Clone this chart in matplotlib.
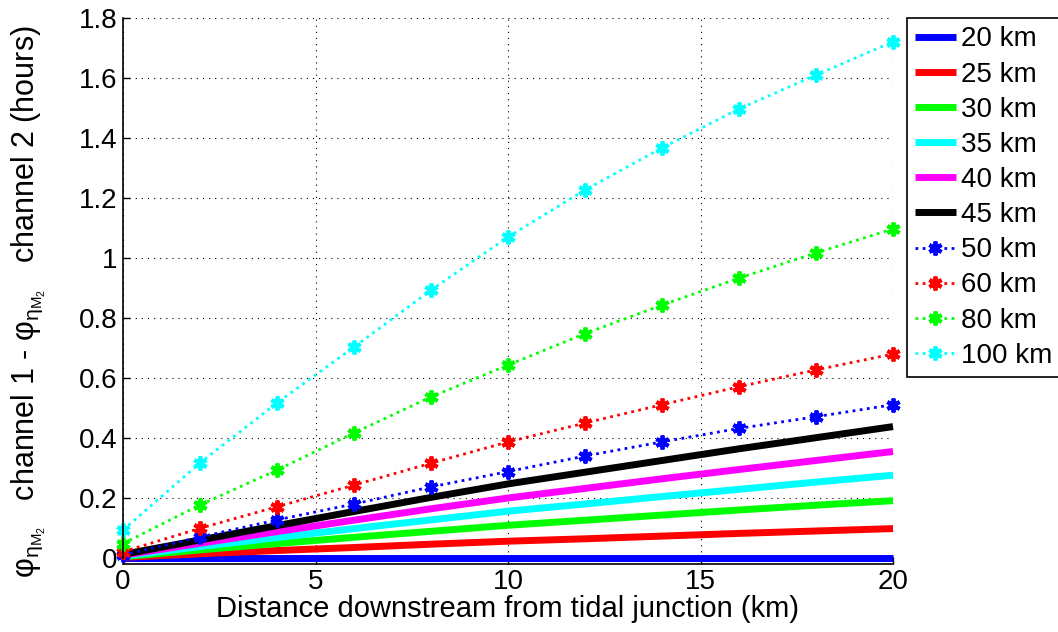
import matplotlib.pyplot as plt
from matplotlib.ticker import MultipleLocator, FormatStrFormatter

plt.rcParams['font.family'] = ['Liberation Sans', 'DejaVu Sans']
plt.rcParams['mathtext.default'] = 'regular'
FONT_SIZE = 20

# distance downstream from the junction (km)
dist = [0, 2, 4, 6, 8, 10, 12, 14, 16, 18, 20]

# phase difference (hours) for each channel length
phase_20 = [0.0, 0.0, 0.0, 0.0, 0.0, 0.0, 0.0, 0.0, 0.0, 0.0, 0.0]
phase_25 = [0.002, 0.014, 0.025, 0.035, 0.046, 0.056, 0.064, 0.073, 0.082, 0.090, 0.098]
phase_30 = [0.004, 0.027, 0.048, 0.069, 0.089, 0.109, 0.126, 0.143, 0.160, 0.176, 0.191]
phase_35 = [0.006, 0.038, 0.068, 0.098, 0.127, 0.156, 0.180, 0.205, 0.229, 0.253, 0.276]
phase_40 = [0.009, 0.049, 0.088, 0.126, 0.164, 0.200, 0.232, 0.264, 0.295, 0.325, 0.355]
phase_45 = [0.012, 0.060, 0.108, 0.155, 0.202, 0.247, 0.286, 0.325, 0.364, 0.401, 0.438]
phase_50 = [0.010, 0.070, 0.127, 0.180, 0.237, 0.288, 0.340, 0.387, 0.432, 0.471, 0.511]
phase_60 = [0.021, 0.099, 0.171, 0.243, 0.316, 0.387, 0.450, 0.511, 0.571, 0.627, 0.680]
phase_80 = [0.048, 0.177, 0.293, 0.417, 0.537, 0.643, 0.748, 0.843, 0.933, 1.017, 1.097]
phase_100 = [0.093, 0.317, 0.517, 0.703, 0.893, 1.070, 1.227, 1.367, 1.497, 1.610, 1.721]

solid_series = [("20 km", phase_20, "#0000ff"), ("25 km", phase_25, "#ff0000"),
                ("30 km", phase_30, "#00ff00"), ("35 km", phase_35, "#00ffff"),
                ("40 km", phase_40, "#ff00ff"), ("45 km", phase_45, "#000000")]
dotted_series = [("50 km", phase_50, "#0000ff"), ("60 km", phase_60, "#ff0000"),
                 ("80 km", phase_80, "#00ff00"), ("100 km", phase_100, "#00ffff")]

fig = plt.figure(figsize=(10.58, 6.32), dpi=100)
ax = fig.add_axes([123 / 1058, 1 - 558 / 632, 770 / 1058, 540 / 632])

for label, vals, col in solid_series:
    ax.plot(dist, vals, color=col, linewidth=5, solid_capstyle='butt',
            clip_on=False, label=label)
for label, vals, col in dotted_series:
    ax.plot(dist, vals, color=col, linewidth=2, linestyle=(0, (1, 1.6)),
            marker=(6, 2, 0), markersize=10, markeredgewidth=2.8,
            clip_on=False, label=label)

ax.set_xlim(0, 20)
ax.set_ylim(0, 1.8)
ax.xaxis.set_major_locator(MultipleLocator(5))
ax.yaxis.set_major_locator(MultipleLocator(0.2))
ax.yaxis.set_major_formatter(FormatStrFormatter('%g'))
ax.grid(True, color='black', linestyle=(0, (1, 4.5)), linewidth=0.8)
ax.set_axisbelow(True)
for side in ('top', 'right'):
    ax.spines[side].set_visible(False)
for side in ('left', 'bottom'):
    ax.spines[side].set_linewidth(1.2)
ax.spines['bottom'].set_position(('outward', 4))
ax.tick_params(axis='both', direction='in', length=5, width=1, labelsize=FONT_SIZE, pad=4)

ax.set_xlabel("Distance downstream from tidal junction (km)", fontsize=21, labelpad=0)
ax.set_ylabel(r"φ$_{η_{M_2}}$   channel 1 - φ$_{η_{M_2}}$   channel 2 (hours)",
              fontsize=22)
ax.yaxis.set_label_coords(-0.097, 0.474)

leg = fig.legend(loc='upper left', bbox_to_anchor=(907 / 1058, 1 - 18 / 632),
                 borderaxespad=0, fontsize=FONT_SIZE, handlelength=1.45,
                 handletextpad=0.2, labelspacing=0.33, borderpad=0.3,
                 fancybox=False, framealpha=1)
leg.get_frame().set_edgecolor('black')
leg.get_frame().set_linewidth(1.2)

fig.savefig("out.png", dpi=100)
